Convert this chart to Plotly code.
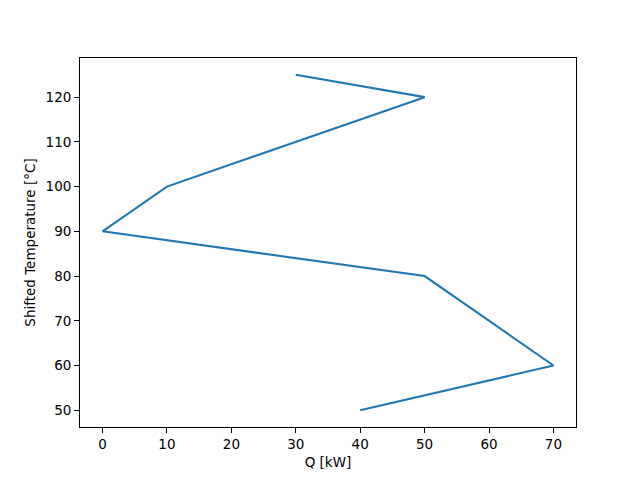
import plotly.graph_objects as go

q_kw = [30, 50, 10, 0, 50, 70, 40]
shifted_temp = [125, 120, 100, 90, 80, 60, 50]
x_ticks = [0, 10, 20, 30, 40, 50, 60, 70]
y_ticks = [50, 60, 70, 80, 90, 100, 110, 120]

fig = go.Figure()
fig.add_trace(go.Scatter(x=q_kw, y=shifted_temp, mode="lines",
                         line=dict(color="#1f77b4", width=2.1), showlegend=False))

axis_common = dict(showgrid=False, zeroline=False, showline=True, linecolor="black",
                   linewidth=1.1, mirror=True, ticks="outside", ticklen=4.9,
                   tickwidth=1.1, tickcolor="black",
                   tickfont=dict(family="DejaVu Sans", size=13.5, color="black"))

fig.update_layout(
    width=632, height=472,
    margin=dict(l=72, r=64, t=50, b=53),
    paper_bgcolor="white", plot_bgcolor="white",
    xaxis=dict(range=[-3.5, 73.5], tickvals=x_ticks,
               title=dict(text="Q [kW]", font=dict(family="DejaVu Sans", size=13.5, color="black"), standoff=6),
               **axis_common),
    yaxis=dict(range=[46.25, 128.75], tickvals=y_ticks,
               title=dict(text="Shifted Temperature [°C]", font=dict(family="DejaVu Sans", size=13.5, color="black"), standoff=6),
               **axis_common),
)

fig.write_html("out.html")
